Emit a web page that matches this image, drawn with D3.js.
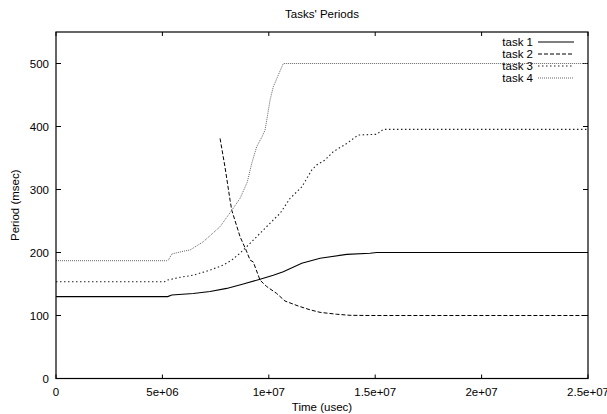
<!DOCTYPE html>
<html>
<head>
<meta charset="utf-8">
<script src="https://cdn.jsdelivr.net/npm/d3@7"></script>
<style>
  body { margin: 0; background: #fff; }
  text { font-family: "Liberation Sans", Arial, sans-serif; font-size: 11.5px; fill: #000; }
</style>
</head>
<body>
<svg width="607" height="414"></svg>
<script>
// time in usec, period in msec
let task1 = [[0,130],[5.25e6,130],[5.44e6,132.5],[6.45e6,135],[7.24e6,138],[8.02e6,143],[8.8e6,150],
  [9.59e6,157.5],[1.021e7,164],[1.068e7,169.5],[1.155e7,183],[1.241e7,191],[1.366e7,197],
  [1.476e7,198.7],[1.507e7,200],[2.5e7,200]];
let task2 = [[7.71e6,381],[7.94e6,336],[8.18e6,283],[8.26e6,267],[8.65e6,225],[8.93e6,204],[9.12e6,188],
  [9.27e6,185],[9.59e6,156],[9.9e6,146],[1.037e7,135],[1.076e7,123],[1.139e7,115],[1.194e7,109],
  [1.241e7,105],[1.319e7,102],[1.382e7,100.3],[1.476e7,100],[2.5e7,100]];
let task3 = [[0,153.6],[5.1e6,153.6],[5.2e6,156],[5.83e6,160.6],[6.45e6,164],[7.24e6,172],[7.86e6,180],
  [8.26e6,188],[8.65e6,199],[9.12e6,214.6],[9.59e6,230.5],[1.021e7,251.6],[1.053e7,262],[1.1e7,286],
  [1.155e7,304],[1.202e7,331],[1.225e7,339],[1.264e7,346.8],[1.303e7,360],[1.366e7,373],
  [1.42e7,386.5],[1.507e7,387.6],[1.538e7,395.5],[2.5e7,395.5]];
let task4 = [[0,187],[5.2e6,187],[5.28e6,188],[5.44e6,197.6],[5.98e6,202],[6.3e6,204],[6.92e6,217],
  [7.71e6,241],[8.26e6,267],[8.65e6,286],[8.99e6,312],[9.2e6,341.6],[9.43e6,368],[9.67e6,383],
  [9.82e6,394],[9.93e6,415.5],[1.006e7,442],[1.021e7,463],[1.045e7,482],[1.068e7,500],[2.5e7,500]];

let seriesNames = ["task 1", "task 2", "task 3", "task 4"];
let xTicks = [0, 5e6, 1e7, 1.5e7, 2e7, 2.5e7];
let xTickLabels = ["0", "5e+06", "1e+07", "1.5e+07", "2e+07", "2.5e+07"];
let yTicks = [0, 100, 200, 300, 400, 500];

let series = [
  {name: seriesNames[0], values: task1, color: "#000", dash: null, w: 1.1},
  {name: seriesNames[1], values: task2, color: "#000", dash: "4,2", w: 1},
  {name: seriesNames[2], values: task3, color: "#222", dash: "1.5,2.5", w: 1.1},
  {name: seriesNames[3], values: task4, color: "#666", dash: "1,1", w: 1}
];

let svg = d3.select("svg"),
    margin = {top: 32, right: 19, bottom: 35.5, left: 56},
    width = 607 - margin.left - margin.right,
    height = 414 - margin.top - margin.bottom,
    g = svg.append("g").attr("transform", "translate(" + margin.left + "," + margin.top + ")");

let x = d3.scaleLinear().domain([0, 2.5e7]).range([0, width]),
    y = d3.scaleLinear().domain([0, 550]).range([height, 0]);

let line = d3.line()
    .x(function(d) { return x(d[0]); })
    .y(function(d) { return y(d[1]); });

// title and axis labels
svg.append("text").attr("x", margin.left + width / 2).attr("y", 18)
    .attr("text-anchor", "middle").text("Tasks' Periods");
svg.append("text").attr("x", margin.left + width / 2).attr("y", 411)
    .attr("text-anchor", "middle").text("Time (usec)");
svg.append("text").attr("transform", "translate(19," + (margin.top + height / 2) + ") rotate(-90)")
    .attr("text-anchor", "middle").text("Period (msec)");

// ticks, mirrored on all sides, pointing inward
let tl = 4;
g.selectAll(".xt").data(xTicks).enter().append("path")
    .attr("d", function(d) { return "M" + x(d) + "," + height + "v" + (-tl) + "M" + x(d) + ",0v" + tl; })
    .attr("stroke", "#000").attr("stroke-width", 1);
g.selectAll(".yt").data(yTicks).enter().append("path")
    .attr("d", function(d) { return "M0," + y(d) + "h" + (tl + 1) + "M" + width + "," + y(d) + "h" + (-tl - 1); })
    .attr("stroke", "#000").attr("stroke-width", 1);

g.selectAll(".xl").data(xTicks).enter().append("text")
    .attr("x", function(d) { return x(d); })
    .attr("y", height + 17)
    .attr("text-anchor", "middle")
    .text(function(d, i) { return xTickLabels[i]; });
g.selectAll(".yl").data(yTicks).enter().append("text")
    .attr("x", -7)
    .attr("y", function(d) { return y(d); })
    .attr("dy", "0.35em")
    .attr("text-anchor", "end")
    .text(function(d) { return d; });

// lines
g.selectAll(".task").data(series).enter().append("path")
    .attr("fill", "none")
    .attr("stroke", function(d) { return d.color; })
    .attr("stroke-width", function(d) { return d.w; })
    .attr("stroke-dasharray", function(d) { return d.dash; })
    .attr("d", function(d) { return line(d.values); });

// legend
let key = g.selectAll(".key").data(series).enter().append("g")
    .attr("transform", function(d, i) { return "translate(0," + (10 + i * 12) + ")"; });
key.append("text").attr("x", width - 55).attr("dy", "0.35em")
    .attr("text-anchor", "end").text(function(d) { return d.name; });
key.append("line").attr("x1", width - 50).attr("x2", width - 14)
    .attr("stroke", function(d) { return d.color; })
    .attr("stroke-width", function(d) { return d.w; })
    .attr("stroke-dasharray", function(d) { return d.dash; });

// border
g.append("rect").attr("width", width).attr("height", height)
    .attr("fill", "none").attr("stroke", "#000").attr("stroke-width", 1.2);
</script>
</body>
</html>
